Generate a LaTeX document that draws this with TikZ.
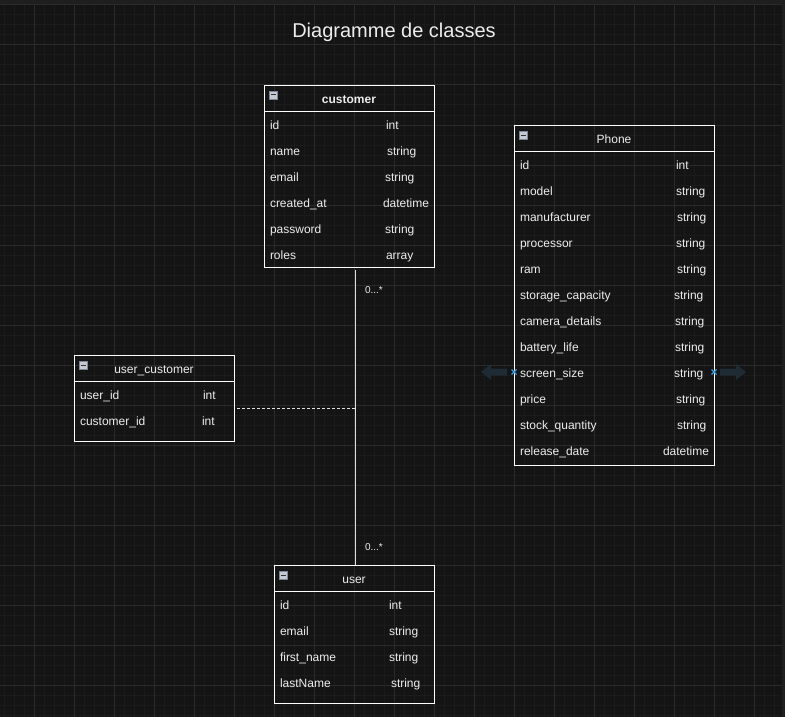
\documentclass[tikz,border=0pt]{standalone}
\usepackage{fontspec}
\setmainfont{Liberation Sans}
\usetikzlibrary{positioning}

\definecolor{canvas}{HTML}{141414}
\definecolor{minorgrid}{HTML}{1B1B1B}
\definecolor{majorgrid}{HTML}{2A2A2A}
\definecolor{topbar}{HTML}{1F1F1F}
\definecolor{fg}{HTML}{EDEDED}
\definecolor{hover}{HTML}{1F2B34}
\definecolor{handle}{HTML}{3D9BE0}
\definecolor{iconfill}{HTML}{C6CBD3}
\definecolor{iconline}{HTML}{7D8794}

\begin{document}
\begin{tikzpicture}[
        x=1pt, y=-1pt,
        every node/.style={font=\fontsize{12}{14}\selectfont, text=fg, inner sep=0pt, outer sep=0pt},
        head/.style={draw=white, line width=0.8pt, anchor=north west, minimum width=#1,
            minimum height=26pt, text height=10.4pt, text depth=0pt},
        body/.style={draw=white, line width=0.8pt, below=0pt of #1},
        field/.style={anchor=base west},
        icon/.style={draw=iconline, fill=iconfill, line width=0.5pt, minimum size=8pt},
        link/.style={draw=white!88!black, line width=0.9pt},
        mult/.style={anchor=base west, font=\fontsize{10}{12}\selectfont}
        ]
            % canvas and grid
            \useasboundingbox (0,0) rectangle (785,717);
            \fill[canvas] (0,0) rectangle (785,717);
            \foreach \x in {4,14,...,784} \draw[minorgrid, line width=1pt] (\x,5) -- (\x,717);
            \foreach \y in {15,25,...,715} \draw[minorgrid, line width=1pt] (0,\y) -- (782,\y);
            \foreach \x in {34,74,...,774} \draw[majorgrid, line width=1pt] (\x,5) -- (\x,717);
            \foreach \y in {45,85,...,705} \draw[majorgrid, line width=1pt] (0,\y) -- (782,\y);
            \fill[topbar] (0,0) rectangle (785,4);
            \draw[majorgrid, line width=1pt] (0,4.5) -- (785,4.5);
            \fill[topbar] (782,0) rectangle (785,717);

            \node[font=\fontsize{20}{24}\selectfont, anchor=base] (TITLE) at (394,38) {Diagramme de classes};

            % customer
            \node[head=170pt, font=\fontsize{12}{14}\selectfont\bfseries] (CUST) at (264,85) {customer};
            \node[body=CUST, minimum width=170pt, minimum height=156pt] (CUSTBODY) {};
            \foreach \n/\t/\x [count=\i] in {id/int/386, name/string/387, email/string/385,
                    created\_at/datetime/383, password/string/385, roles/array/386} {
                \node[field] at (270,103.3+26*\i) {\n};
                \node[field] at (\x,103.3+26*\i) {\t};
            }

            % Phone
            \node[head=200pt] (PHONE) at (514,125) {Phone};
            \node[body=PHONE, minimum width=200pt, minimum height=314pt] (PHONEBODY) {};
            \foreach \n/\t/\x [count=\i] in {id/int/676, model/string/676, manufacturer/string/677,
                    processor/string/676, ram/string/677, storage\_capacity/string/674,
                    camera\_details/string/675, battery\_life/string/675, screen\_size/string/674,
                    price/string/676, stock\_quantity/string/677, release\_date/datetime/663} {
                \node[field] at (520,143.3+26*\i) {\n};
                \node[field] at (\x,143.3+26*\i) {\t};
            }

            % user_customer
            \node[head=160pt] (UC) at (74,355) {user\_customer};
            \node[body=UC, minimum width=160pt, minimum height=60pt] (UCBODY) {};
            \foreach \n/\t/\x [count=\i] in {user\_id/int/203, customer\_id/int/202} {
                \node[field] at (80,373.3+26*\i) {\n};
                \node[field] at (\x,373.3+26*\i) {\t};
            }

            % user
            \node[head=160pt] (USER) at (274,565) {user};
            \node[body=USER, minimum width=160pt, minimum height=112pt] (USERBODY) {};
            \foreach \n/\t/\x [count=\i] in {id/int/389, email/string/389,
                    first\_name/string/389, lastName/string/391} {
                \node[field] at (280,583.3+26*\i) {\n};
                \node[field] at (\x,583.3+26*\i) {\t};
            }

            % collapse icons
            \foreach \h in {CUST, PHONE, UC, USER} {
                \node[icon] (\h ICON) at ([xshift=9.5pt, yshift=-10pt]\h.north west) {};
                \draw[black!80, line width=1pt] ([xshift=-2.5pt]\h ICON.center) -- ([xshift=2.5pt]\h ICON.center);
            }

            % associations
            \coordinate (JOIN) at (355,408);
            \draw[link] ([xshift=6pt, yshift=-3pt]CUSTBODY.south) -- ([xshift=1pt]USER.north);
            \draw[link, dash pattern=on 3pt off 2pt] ([xshift=3pt, yshift=3pt]UCBODY.east) -- (JOIN);
            \node[mult] (MTOP) at (365,293) {0...*};
            \node[mult] (MBOT) at (365,550) {0...*};

            % hover handles on Phone
            \fill[hover] (481,372) -- (491,364) -- (491,368.5) -- (507,368.5) -- (507,375.5)
                -- (491,375.5) -- (491,380) -- cycle;
            \fill[hover] (746,372) -- (736,364) -- (736,368.5) -- (720,368.5) -- (720,375.5)
                -- (736,375.5) -- (736,380) -- cycle;
            \foreach \x in {514,714}
                \draw[handle, line width=1.1pt] (\x-2.5,369.5) -- (\x+2.5,374.5)
                    (\x-2.5,374.5) -- (\x+2.5,369.5);
        \end{tikzpicture}
\end{document}
